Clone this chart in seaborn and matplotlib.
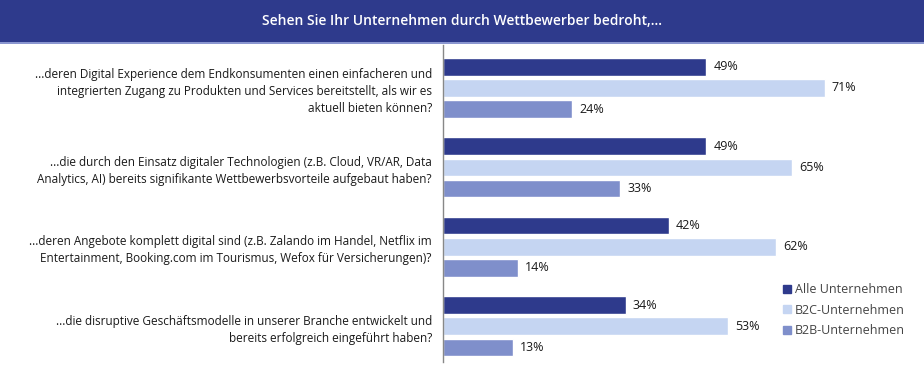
import matplotlib
matplotlib.use("Agg")
import matplotlib.pyplot as plt
from matplotlib.patches import Rectangle
from matplotlib.lines import Line2D
import seaborn as sns
import pandas as pd

questions = [
    "...deren Digital Experience dem Endkonsumenten einen einfacheren und\nintegrierten Zugang zu Produkten und Services bereitstellt, als wir es\naktuell bieten können?",
    "...die durch den Einsatz digitaler Technologien (z.B. Cloud, VR/AR, Data\nAnalytics, AI) bereits signifikante Wettbewerbsvorteile aufgebaut haben?",
    "...deren Angebote komplett digital sind (z.B. Zalando im Handel, Netflix im\nEntertainment, Booking.com im Tourismus, Wefox für Versicherungen)?",
    "...die disruptive Geschäftsmodelle in unserer Branche entwickelt und\nbereits erfolgreich eingeführt haben?",
]
series_names = ["Alle Unternehmen", "B2C-Unternehmen", "B2B-Unternehmen"]
alle = [49, 49, 42, 34]
b2c = [71, 65, 62, 53]
b2b = [24, 33, 14, 13]
colors = ["#2E3A8C", "#C5D5F2", "#7F8FCB"]
title = "Sehen Sie Ihr Unternehmen durch Wettbewerber bedroht,..."

rows = []
for name, vals in zip(series_names, [alle, b2c, b2b]):
    for q, v in zip(questions, vals):
        rows.append({"Frage": q, "Gruppe": name, "Wert": v})
df = pd.DataFrame(rows)

sns.set_theme(style="white")
plt.rcParams["font.family"] = ["Open Sans", "DejaVu Sans"]

W, H = 924, 367
fig = plt.figure(figsize=(W / 100, H / 100), dpi=100)
ax = fig.add_axes([443 / W, 1 - 362 / H, 430 / W, (362 - 45) / H])

sns.barplot(data=df, y="Frage", x="Wert", hue="Gruppe", order=questions,
            hue_order=series_names, palette=colors, orient="h", ax=ax,
            width=0.8, gap=0.17, legend=False, errorbar=None, saturation=1)

for cont in ax.containers:
    ax.bar_label(cont, labels=[f"{int(v)}%" for v in cont.datavalues],
                 padding=5, fontsize=9, color="#1a1a1a")

ax.set_xlim(0, 80)
ax.set_ylim(3.45, -0.54)
ax.set_xlabel("")
ax.set_ylabel("")
ax.set_xticks([])
ax.tick_params(axis="y", length=0, pad=8)
for lab in ax.get_yticklabels():
    lab.set_multialignment("right")
    lab.set_fontsize(8.5)
    lab.set_color("#1a1a1a")
    lab.set_linespacing(1.4)
for s in ["top", "right", "bottom"]:
    ax.spines[s].set_visible(False)
ax.spines["left"].set_color("#888888")
ax.spines["left"].set_linewidth(1)

# header bar
fig.patches.append(Rectangle((0, 1 - 42 / H), 1, 42 / H, transform=fig.transFigure,
                             facecolor="#2E3A8C", edgecolor="none", zorder=0))
fig.patches.append(Rectangle((0, 1 - 44 / H), 1, 2 / H, transform=fig.transFigure,
                             facecolor="#8A96D0", edgecolor="none", zorder=0))
fig.text(0.5, 1 - 21 / H, title, ha="center", va="center", color="white",
         fontsize=10, fontweight="semibold")

handles = [Line2D([0], [0], marker="s", linestyle="none", markersize=6,
                  markerfacecolor=c, markeredgecolor=c) for c in colors]
leg = fig.legend(handles, series_names, loc="upper left",
                 bbox_to_anchor=(776 / W, 1 - 278 / H), frameon=False,
                 fontsize=9, handletextpad=0.1, labelspacing=0.6,
                 handlelength=1.0, borderaxespad=0)
for t in leg.get_texts():
    t.set_color("#444444")

fig.savefig("out.png", dpi=100)
